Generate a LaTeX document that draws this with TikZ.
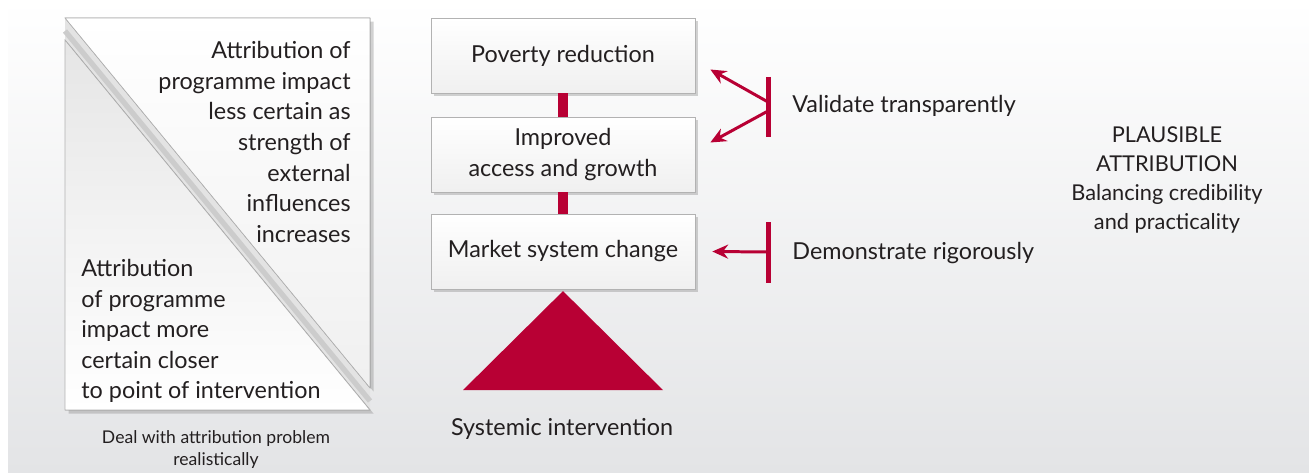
\documentclass[tikz,border=0pt]{standalone}
\usepackage{fontspec}
\setmainfont{Lato}
\usetikzlibrary{arrows.meta}
\usetikzlibrary{shadows}
\definecolor{crimson}{RGB}{184,0,52}
\definecolor{panelgray}{RGB}{227,228,230}
\definecolor{inkgray}{RGB}{35,31,32}

\begin{document}
\begin{tikzpicture}[x=0.02cm,y=-0.02cm,
    txt/.style={inner sep=0, text=inkgray, font=\fontsize{13.3}{17.4}\selectfont},
    box/.style={txt, draw=gray!60, top color=white, bottom color=gray!12,
      minimum width=5.28cm, minimum height=1.5cm, align=center,
      drop shadow={opacity=0.35, shadow xshift=1.5pt, shadow yshift=-1.5pt}},
    redbar/.style={crimson, line width=0.2cm},
    tbar/.style={crimson, line width=0.1cm},
    redarrow/.style={crimson, line width=1.7pt, -{Stealth[length=9pt, width=8pt, inset=3pt]}}]

    % background panel
    \useasboundingbox (0,0) rectangle (1309,473);
    \fill[white] (0,0) rectangle (1309,473);
    \shade[top color=white, bottom color=panelgray] (8,0) rectangle (1309,473);

    % diagonal band
    \fill[gray!22] (65,18) -- (370,388) -- (370,410) -- (65,40) -- cycle;
    \draw[gray!40, line width=3pt] (65,31) -- (370,401);

    % upper and lower triangles
    \filldraw[draw=gray!60, top color=white, bottom color=gray!12,
      drop shadow={opacity=0.35, shadow xshift=2pt, shadow yshift=-2pt}]
      (65,18) -- (370,18) -- (370,388) -- cycle;
    \filldraw[draw=gray!60, top color=gray!20, bottom color=white,
      drop shadow={opacity=0.35, shadow xshift=2pt, shadow yshift=-2pt}]
      (65,40) -- (370,410) -- (65,410) -- cycle;

    \node[txt, align=right, anchor=east] (lesscertain) at (351,142)
      {Attribution of\\programme impact\\less certain as\\strength of\\external\\influences\\increases};
    \node[txt, align=left, anchor=west] (morecertain) at (81,331)
      {Attribution\\of programme\\impact more\\certain closer\\to point of intervention};
    \node[txt, align=center, font=\fontsize{10}{12.5}\selectfont] (realistic) at (216,450)
      {Deal with attribution problem\\realistically};

    % results chain
    \node[box] (poverty) at (563,55.5) {Poverty reduction};
    \node[box] (access) at (563,154.5) {Improved\\access and growth};
    \node[box] (market) at (563,251.5) {Market system change};
    \draw[redbar] (poverty.south) -- (access.north);
    \draw[redbar] (access.south) -- (market.north);

    % intervention triangle
    \fill[crimson] ([yshift=-1pt]market.south) -- ++(100,99) -- ++(-200,0) -- cycle;
    \node[txt] (systemic) at (562,429) {Systemic intervention};

    % validate
    \coordinate (vtop) at (768,77);
    \coordinate (vbot) at (768,137);
    \draw[tbar] (vtop) -- (vbot);
    \draw[redarrow] (768,102) -- ([shift={(15,14)}]poverty.east);
    \draw[redarrow] (768,111) -- ([shift={(15,-12)}]access.east);
    \node[txt, anchor=west] (validate) at (792,106) {Validate transparently};

    % demonstrate
    \coordinate (dtop) at (768,222);
    \coordinate (dbot) at (768,283);
    \draw[tbar] (dtop) -- (dbot);
    \draw[redarrow] (768,252) -- ([shift={(17,0)}]market.east);
    \node[txt, anchor=west] (demonstrate) at (792,253) {Demonstrate rigorously};

    \node[txt, align=center, font=\fontsize{12.4}{16.4}\selectfont] (plausible) at (1167,180)
      {PLAUSIBLE\\ATTRIBUTION\\Balancing credibility\\and practicality};
\end{tikzpicture}
\end{document}
